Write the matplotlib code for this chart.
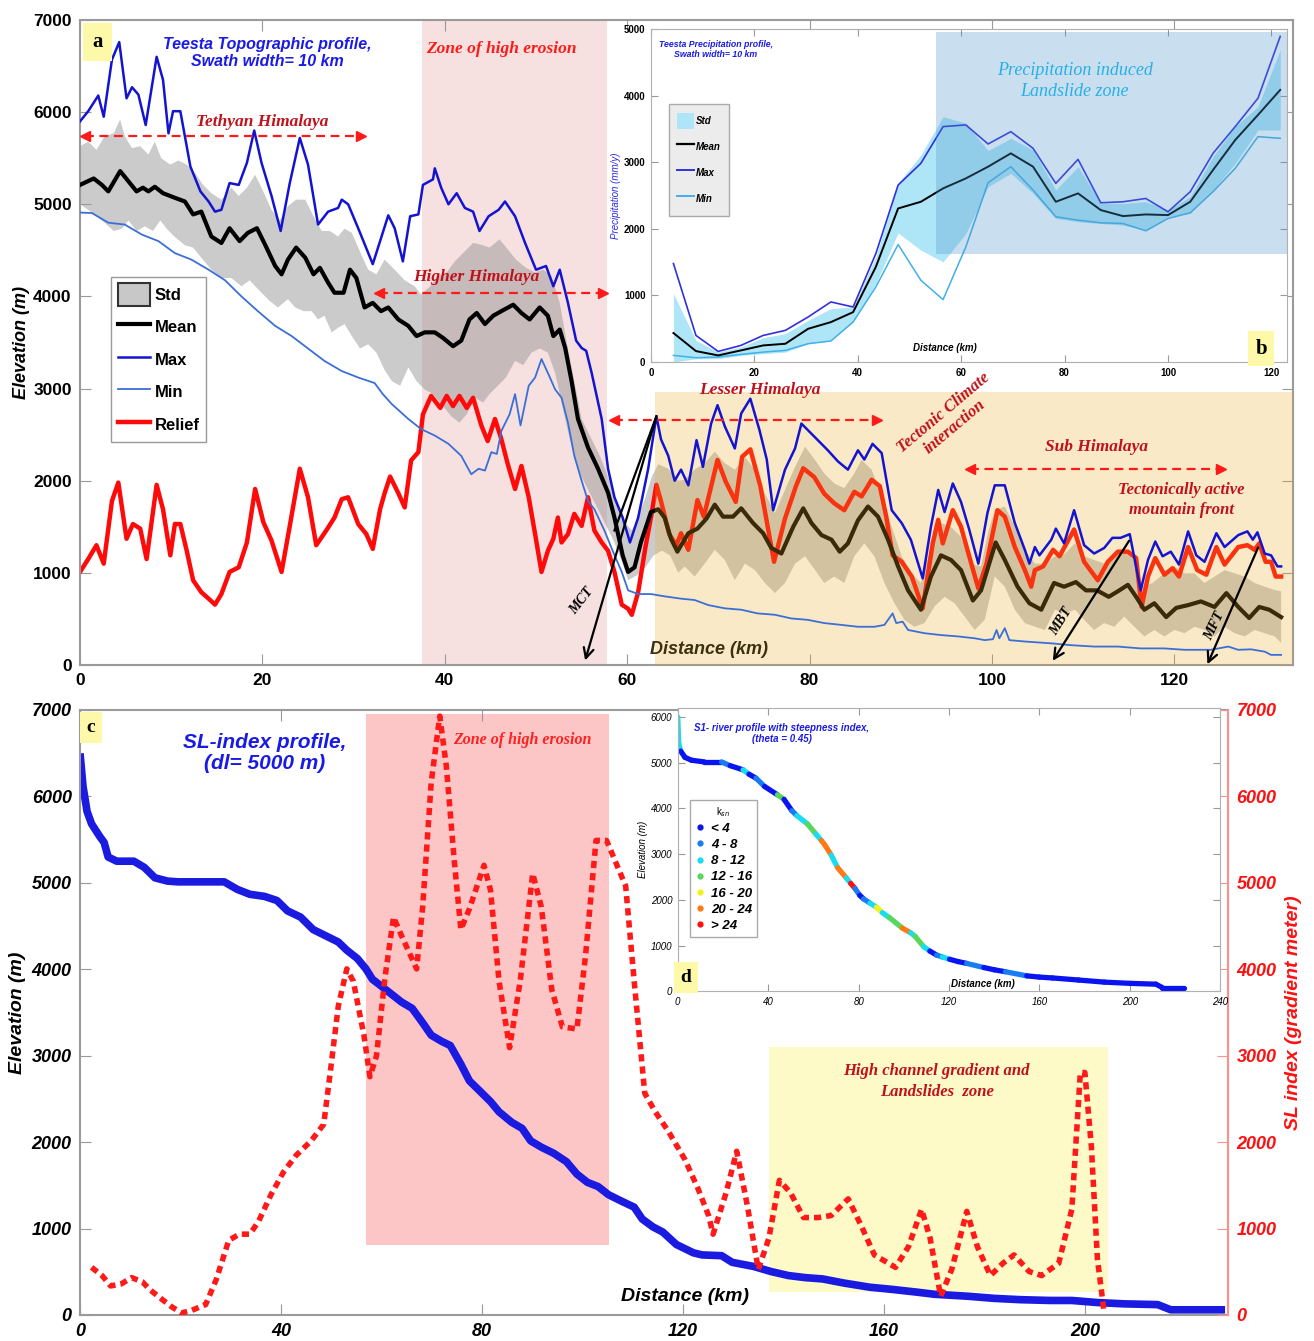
import matplotlib
matplotlib.use('Agg')
import matplotlib.pyplot as plt
from matplotlib.patches import Rectangle, Patch
from matplotlib.lines import Line2D
from matplotlib.collections import LineCollection

plt.rcParams['font.family'] = ['Liberation Sans', 'DejaVu Sans']
SERIF = ['Liberation Serif', 'DejaVu Serif']

# ---------------- panel a : topographic swath profile ----------------
max_km = [0, 0.9, 2.0, 2.6, 3.5, 4.3, 5.1, 5.7, 6.4, 7.2, 8.4, 9.1, 9.7, 10.2, 11.0, 12.1, 13.2, 14.1, 14.8, 15.5,
          16.4, 17.4, 18.3, 19.1, 19.9, 21.0, 22.0, 23.0, 24.1, 25.0, 26.1, 27.2, 28.3, 28.7, 29.4, 30.5, 31.6, 32.1,
          32.9, 33.8, 34.5, 35.4, 36.2, 37.1, 37.6, 38.7, 38.9, 39.6, 40.4, 41.3, 42.2, 43.1, 43.8, 44.8, 45.9, 46.6,
          47.7, 48.8, 50.0, 51.1, 51.9, 52.6, 53.5, 54.4, 55.0, 55.5, 56.1, 57.2, 57.9, 58.6, 59.5, 60.3, 61.2, 62.3,
          63.2, 63.7, 64.5, 65.2, 65.9, 66.7, 67.6, 68.3, 69.2, 69.9, 70.7, 71.8, 72.5, 73.5, 74.5, 75.3, 76.0, 77.3,
          78.4, 79.1, 79.8, 80.9, 82.0, 83.1, 84.2, 85.3, 86.0, 86.9, 87.9, 89.0, 90.1, 91.1, 92.4, 93.3, 94.1, 94.8,
          95.7, 96.6, 97.5, 98.5, 99.5, 100.3, 101.4, 102.5, 103.6, 104.1, 104.7, 105.2, 106.5, 107.0, 107.9, 109.0,
          110.1, 111.2, 112.3, 113.2, 114.1, 115.1, 116.3, 117.1, 117.9, 118.7, 119.6, 120.5, 121.5, 122.4, 123.3,
          124.6, 125.5, 127.0, 128.0, 128.6, 129.1, 129.9, 130.6, 131.3, 131.7]
max_elev = [5900, 6010, 6180, 5950, 6570, 6760, 6150, 6270, 6190, 5860, 6600, 6350, 5770, 6010, 6010, 5410, 5140, 5030,
            4920, 4940, 5230, 5210, 5450, 5800, 5450, 5090, 4710, 5230, 5720, 5430, 4780, 4920, 4960, 5050, 5000, 4740,
            4470, 4350, 4600, 4880, 4740, 4380, 4870, 4890, 5210, 5270, 5390, 5180, 5000, 5120, 4960, 4920, 4710, 4870,
            4940, 5030, 4870, 4580, 4290, 4330, 4110, 4290, 3930, 3520, 3440, 3410, 3170, 2670, 2130, 1820, 1600, 1330,
            1600, 2130, 2700, 2450, 2270, 2000, 2120, 1950, 2440, 2150, 2620, 2820, 2590, 2350, 2730, 2890, 2550, 2230,
            1680, 2120, 2350, 2620, 2550, 2440, 2330, 2210, 2120, 2330, 2230, 2400, 2300, 1680, 1540, 1360, 940, 1500,
            1900, 1660, 1970, 1770, 1470, 1100, 1650, 1950, 1950, 1540, 1250, 1100, 1280, 1190, 1360, 1480, 1320, 1680,
            1300, 1210, 1270, 1380, 1380, 1420, 810, 1140, 1340, 1180, 1230, 1090, 1450, 1190, 1120, 1430, 1280, 1410,
            1450, 1360, 1440, 1210, 1190, 1070, 1070]

mean_km = [0, 1.5, 2.4, 3.1, 4.4, 5.3, 6.2, 6.9, 7.5, 8.2, 9.1, 10.4, 11.5, 12.4, 13.3, 14.4, 15.5, 16.4, 17.5, 18.4,
           19.4, 20.3, 21.4, 22.1, 22.8, 23.7, 24.7, 25.6, 26.3, 27.2, 27.9, 28.9, 29.6, 30.3, 31.2, 32.1, 33.0, 33.8,
           34.9, 36.0, 36.9, 37.8, 38.9, 39.8, 40.9, 41.8, 42.7, 43.5, 44.4, 45.3, 46.2, 47.5, 48.4, 49.3, 50.4, 51.3,
           51.9, 52.6, 53.2, 53.9, 54.6, 55.7, 56.8, 57.9, 58.6, 59.5, 60.1, 60.8, 61.5, 62.6, 63.4, 64.1, 64.8, 65.5,
           66.7, 67.7, 68.7, 69.6, 70.5, 71.6, 72.5, 73.8, 74.9, 75.8, 76.9, 78.2, 79.3, 80.2, 81.3, 82.4, 83.3, 84.2,
           85.3, 86.4, 87.5, 88.6, 89.7, 90.8, 92.2, 93.3, 94.4, 95.5, 96.6, 97.9, 98.8, 100.4, 101.4, 102.8, 104.1,
           105.4, 106.8, 107.9, 109.2, 110.3, 111.5, 112.8, 113.8, 114.9, 115.8, 116.7, 117.8, 119.1, 120.2, 121.5,
           122.9, 124.4, 125.7, 127.0, 128.2, 129.3, 130.4, 131.7]
mean_elev = [5210, 5280, 5210, 5140, 5360, 5250, 5140, 5180, 5140, 5190, 5120, 5070, 5030, 4890, 4920, 4650, 4580, 4740,
             4600, 4690, 4740, 4560, 4330, 4240, 4400, 4530, 4420, 4240, 4310, 4150, 4040, 4040, 4290, 4200, 3880, 3930,
             3840, 3880, 3750, 3680, 3570, 3610, 3610, 3550, 3460, 3520, 3750, 3820, 3700, 3790, 3840, 3910, 3820, 3750,
             3880, 3790, 3570, 3640, 3440, 3080, 2670, 2360, 2130, 1870, 1600, 1190, 1010, 1060, 1330, 1660, 1690, 1600,
             1370, 1230, 1430, 1480, 1590, 1740, 1610, 1610, 1700, 1540, 1430, 1270, 1210, 1500, 1700, 1540, 1410, 1360,
             1230, 1320, 1570, 1720, 1610, 1360, 1070, 810, 600, 960, 1190, 1140, 1030, 700, 810, 1330, 1140, 850, 670,
             600, 890, 850, 900, 810, 810, 740, 800, 870, 740, 600, 670, 520, 620, 650, 690, 630, 780, 630, 510, 630,
             600, 520]

min_km = [0, 1.3, 3.1, 4.9, 6.8, 8.6, 10.4, 12.2, 14.1, 15.9, 17.7, 19.5, 21.4, 23.2, 25.0, 26.8, 28.7, 30.5, 32.3,
          33.2, 34.2, 36.0, 37.4, 38.9, 40.4, 41.8, 42.9, 43.7, 44.4, 45.1, 45.7, 46.2, 47.1, 47.7, 48.3, 49.2, 49.9,
          50.6, 51.3, 52.1, 52.8, 53.5, 54.2, 55.0, 55.7, 56.4, 57.5, 58.4, 59.4, 60.1, 61.2, 62.6, 64.1, 65.9, 67.4,
          68.9, 70.7, 72.5, 74.3, 76.2, 78.0, 79.8, 81.6, 83.5, 85.3, 87.1, 88.2, 89.1, 89.5, 90.2, 90.8, 92.6, 94.4,
          96.3, 98.1, 99.2, 100.1, 100.5, 100.8, 101.4, 101.9, 103.6, 106.5, 108.7, 111.2, 113.8, 116.3, 118.9, 121.1,
          124.0, 125.9, 127.0, 128.4, 129.9, 130.6, 131.7]
min_elev = [4910, 4905, 4800, 4780, 4670, 4600, 4470, 4400, 4290, 4175, 4000, 3840, 3680, 3570, 3435, 3300, 3190, 3120,
            3060, 2940, 2830, 2670, 2560, 2490, 2400, 2270, 2070, 2130, 2110, 2310, 2290, 2540, 2720, 2940, 2600, 3030,
            3120, 3320, 3170, 2990, 2900, 2630, 2270, 2000, 1780, 1690, 1460, 1240, 1010, 810, 770, 770, 745, 720, 705,
            650, 615, 600, 560, 545, 505, 490, 455, 435, 415, 415, 435, 560, 455, 470, 380, 345, 325, 310, 290, 270,
            280, 380, 290, 400, 270, 255, 235, 215, 200, 200, 180, 180, 165, 165, 200, 165, 170, 145, 110, 110]

relief_km = [0, 0.9, 1.8, 2.6, 3.5, 4.2, 5.1, 5.8, 6.6, 7.3, 8.4, 9.1, 9.9, 10.4, 11.0, 11.7, 12.4, 13.3, 14.1, 14.8,
             15.5, 16.4, 17.4, 18.3, 19.2, 20.1, 21.0, 22.1, 23.0, 24.1, 25.0, 25.9, 27.0, 27.9, 28.7, 29.4, 30.5, 31.4,
             32.1, 32.9, 33.4, 34.0, 34.9, 35.6, 36.3, 37.1, 37.6, 38.5, 39.5, 40.2, 40.9, 41.6, 42.4, 43.1, 44.0, 44.7,
             45.5, 46.2, 46.9, 47.7, 48.4, 49.2, 49.9, 50.6, 51.3, 51.9, 52.4, 52.8, 53.5, 54.2, 55.0, 55.7, 56.4, 57.2,
             57.9, 58.6, 59.4, 60.1, 60.5, 61.2, 62.0, 62.6, 63.2, 63.7, 64.6, 65.4, 65.9, 66.7, 67.7, 68.4, 69.9, 70.8,
             71.9, 72.6, 73.5, 74.6, 76.1, 77.3, 78.5, 79.3, 80.5, 81.6, 82.7, 83.8, 84.9, 85.7, 86.8, 87.7, 88.4, 89.1,
             90.1, 91.2, 92.4, 93.5, 94.1, 94.6, 95.7, 96.6, 97.5, 98.5, 99.4, 100.6, 101.4, 102.5, 103.6, 104.3, 104.7,
             105.6, 106.7, 107.4, 109.0, 110.1, 111.6, 112.7, 113.8, 114.9, 115.8, 116.4, 117.1, 117.9, 118.9, 119.8,
             120.5, 121.5, 122.5, 123.5, 124.6, 125.5, 127.0, 128.0, 128.8, 129.3, 130.0, 130.6, 131.1, 131.7]
relief_elev = [1010, 1150, 1300, 1100, 1780, 1980, 1370, 1530, 1480, 1150, 1955, 1690, 1190, 1530, 1530, 1240, 920, 790,
               720, 655, 770, 1010, 1060, 1330, 1910, 1550, 1350, 1010, 1510, 2130, 1820, 1300, 1460, 1600, 1800, 1820,
               1530, 1420, 1260, 1690, 1865, 2045, 1865, 1710, 2220, 2310, 2720, 2920, 2790, 2920, 2810, 2920, 2790,
               2900, 2600, 2430, 2670, 2450, 2180, 1910, 2160, 1820, 1420, 1010, 1240, 1370, 1600, 1330, 1420, 1640,
               1510, 1820, 1460, 1330, 1240, 1010, 655, 610, 545, 790, 1280, 1600, 1955, 1780, 1420, 1300, 1430, 1250,
               1790, 1610, 2225, 1990, 1770, 2260, 2340, 1940, 1120, 1590, 1940, 2135, 2040, 1860, 1755, 1680, 1880,
               1830, 2010, 1940, 1610, 1190, 1120, 960, 615, 1320, 1575, 1320, 1680, 1500, 1180, 830, 1100, 1680, 1610,
               1280, 1030, 850, 1030, 1070, 1250, 1180, 1470, 1120, 920, 1120, 1230, 1230, 1160, 630, 960, 1160, 980,
               1050, 960, 1280, 1030, 980, 1280, 1090, 1280, 1300, 1250, 1320, 1120, 1120, 960, 960]

std_hi_km = [0, 0.9, 1.8, 2.7, 3.7, 4.4, 4.9, 5.7, 6.6, 7.5, 8.2, 8.9, 9.9, 10.8, 11.7, 12.6, 13.5, 14.4, 15.5, 16.6,
             17.4, 18.3, 19.2, 19.9, 21.0, 21.9, 22.8, 23.7, 24.7, 25.6, 26.5, 27.4, 28.3, 29.0, 29.8, 30.9, 31.6, 32.5,
             33.4, 34.5, 35.6, 36.7, 37.4, 38.4, 39.3, 40.2, 41.1, 42.2, 43.1, 44.0, 44.9, 46.0, 46.9, 47.8, 48.9, 49.9,
             50.8, 51.7, 52.6, 53.4, 54.3, 55.0, 56.1, 57.0, 57.9, 58.8, 59.7, 60.5, 61.2, 62.0, 62.7, 63.4, 64.5, 65.6,
             66.3, 67.4, 68.5, 69.6, 70.7, 71.8, 72.9, 74.0, 75.1, 76.2, 77.3, 78.4, 79.5, 80.6, 81.6, 82.7, 83.8, 84.9,
             85.7, 86.8, 87.9, 89.0, 90.1, 91.2, 92.2, 93.3, 94.4, 95.5, 96.6, 97.7, 98.8, 99.6, 100.3, 101.4, 102.5,
             103.6, 104.7, 105.8, 106.9, 108.0, 109.1, 110.1, 111.2, 112.3, 113.4, 114.5, 115.6, 116.5, 117.6, 118.9,
             120.0, 121.1, 122.2, 123.3, 124.4, 125.5, 126.6, 127.7, 128.8, 129.9, 131.0, 131.7]
std_hi_elev = [5630, 5680, 5590, 5740, 5770, 5920, 5740, 5610, 5630, 5540, 5680, 5500, 5430, 5475, 5430, 5340, 5210,
               5120, 5050, 5180, 5090, 5180, 5320, 5180, 4940, 4825, 4980, 5050, 5050, 4870, 4710, 4710, 4650, 4735,
               4690, 4440, 4290, 4240, 4400, 4290, 4175, 4110, 4020, 4110, 4220, 4260, 4380, 4490, 4580, 4560, 4530,
               4620, 4510, 4400, 4310, 4260, 4290, 4220, 3930, 3480, 3030, 2670, 2450, 2270, 2045, 1780, 1550, 1460,
               1600, 1820, 2045, 2180, 2130, 2000, 2010, 2120, 2190, 2315, 2190, 2120, 2260, 2120, 1860, 1650, 1900,
               2150, 2370, 2225, 2080, 1970, 1920, 2080, 2225, 2120, 1830, 1500, 1180, 995, 890, 1285, 1540, 1500, 1390,
               1100, 1070, 1450, 1680, 1720, 1500, 1250, 1100, 1100, 1180, 1210, 1320, 1180, 1140, 1100, 1180, 1250,
               1140, 850, 890, 995, 1070, 995, 995, 890, 960, 1030, 995, 960, 890, 850, 815, 800]

std_lo_km = [0, 0.9, 1.8, 2.7, 3.7, 4.6, 5.3, 6.2, 7.1, 8.0, 8.8, 9.5, 10.4, 11.5, 12.4, 13.3, 14.4, 15.5, 16.6, 17.7,
             18.6, 19.7, 20.8, 21.7, 22.8, 23.6, 24.5, 25.4, 26.1, 26.8, 27.6, 28.3, 29.0, 29.8, 30.7, 31.6, 32.5, 33.4,
             34.2, 35.1, 36.0, 36.9, 37.8, 38.7, 39.8, 40.7, 41.6, 42.4, 43.3, 44.2, 44.9, 45.8, 46.7, 47.7, 48.6, 49.5,
             50.4, 51.3, 52.1, 52.8, 53.5, 54.3, 55.0, 55.9, 56.8, 57.7, 58.6, 59.5, 60.1, 61.0, 62.0, 62.9, 63.8, 64.7,
             65.6, 66.3, 67.4, 68.5, 69.6, 70.7, 71.8, 72.9, 74.0, 75.1, 76.2, 77.3, 78.4, 79.5, 80.6, 81.6, 82.7, 83.8,
             84.9, 86.0, 87.1, 88.2, 89.3, 90.4, 91.5, 92.6, 93.7, 94.8, 95.9, 97.0, 98.1, 99.2, 100.3, 101.4, 102.5,
             103.6, 104.7, 105.8, 106.9, 108.0, 109.1, 110.1, 111.2, 112.3, 113.4, 114.5, 115.6, 116.7, 117.8, 118.9,
             120.0, 121.1, 122.2, 123.3, 124.4, 125.5, 126.6, 127.7, 128.8, 129.9, 131.0, 131.7]
std_lo_elev = [5000, 4940, 4870, 4800, 4710, 4735, 4825, 4710, 4760, 4710, 4825, 4735, 4645, 4555, 4530, 4420, 4290,
               4200, 4200, 4110, 4175, 4060, 3950, 3880, 3970, 3880, 3840, 3840, 3750, 3790, 3610, 3660, 3700, 3570,
               3435, 3480, 3390, 3200, 3080, 3030, 3230, 3080, 2990, 2940, 2810, 2700, 2630, 2720, 2900, 2850, 2940,
               3030, 3120, 3300, 3255, 3390, 3435, 3390, 3170, 2850, 2540, 2220, 2045, 1865, 1690, 1510, 1330, 1100,
               920, 970, 1060, 1190, 1240, 1190, 1000, 1070, 960, 1100, 1250, 1140, 920, 1100, 1030, 890, 780, 890,
               1100, 1180, 1030, 890, 960, 890, 1180, 1320, 1180, 890, 670, 490, 415, 455, 635, 740, 670, 525, 380, 490,
               960, 850, 600, 455, 415, 380, 600, 560, 600, 490, 380, 455, 415, 525, 415, 310, 380, 310, 380, 345, 415,
               380, 310, 415, 345, 310, 380, 345, 310, 240]

# ---------------- panel b : precipitation swath (inset) ----------------
prec_km = [4.35, 8.7, 13.0, 17.4, 21.7, 26.0, 30.4, 34.8, 39.1, 43.5, 47.8, 52.2, 56.5, 60.9, 65.2, 69.6, 73.9, 78.3,
           82.6, 87.0, 91.3, 95.7, 100.0, 104.3, 108.7, 113.0, 117.4, 121.7]
prec_mean = [436, 165, 100, 175, 250, 275, 500, 600, 750, 1430, 2307, 2407, 2608, 2758, 2934, 3134, 2934, 2407, 2533,
             2282, 2192, 2217, 2207, 2407, 2884, 3335, 3711, 4087]
prec_max = [1479, 400, 160, 250, 400, 476, 677, 903, 827, 1630, 2658, 2984, 3536, 3561, 3275, 3460, 3210, 2683, 3044,
            2392, 2407, 2457, 2257, 2558, 3134, 3536, 3962, 4890]
prec_min = [100, 65, 75, 115, 150, 175, 276, 316, 602, 1128, 1765, 1229, 938, 1730, 2693, 2934, 2583, 2182, 2131, 2091,
            2081, 1971, 2156, 2242, 2558, 2909, 3385, 3360]
prec_std_hi = [1028, 326, 150, 226, 366, 426, 627, 802, 827, 1580, 2683, 3110, 3686, 3586, 3175, 3360, 3185, 2583, 2934,
               2382, 2382, 2407, 2282, 2482, 3084, 3536, 3836, 4689]
prec_std_lo = [0, 50, 50, 100, 125, 150, 276, 326, 602, 1178, 1940, 1680, 1505, 1930, 2633, 2834, 2533, 2157, 2106,
               2081, 2056, 1981, 2182, 2232, 2583, 2984, 3485, 3485]

# ---------------- panel c : SL-index profile ----------------
river_km = [0, 0.6, 1.4, 2.3, 3.9, 4.8, 5.6, 7.3, 10.7, 12.8, 14.9, 17.4, 19.5, 28.7, 31.3, 33.8, 36.7, 39.2, 41.3, 43.9,
            46.4, 48.9, 51.4, 53.1, 55.2, 56.9, 58.2, 59.8, 61.9, 64.0, 66.1, 68.2, 69.9, 72.0, 73.7, 75.8, 77.5, 79.6,
            81.7, 83.4, 85.9, 88.0, 89.7, 91.8, 94.3, 96.8, 98.9, 101.0, 103.1, 105.2, 107.7, 110.3, 111.9, 114.0,
            116.0, 118.7, 122.1, 123.8, 127.7, 129.8, 134.1, 137.5, 141.0, 144.4, 147.8, 152.1, 157.2, 161.5, 166.6,
            170.0, 176.9, 182.0, 187.2, 193.1, 197.4, 202.5, 207.7, 214.5, 217.1, 223.1, 227.9]
river_elev = [6497, 6114, 5826, 5682, 5538, 5466, 5298, 5250, 5250, 5178, 5058, 5020, 5011, 5011, 4924, 4867, 4843,
              4795, 4675, 4603, 4459, 4387, 4315, 4220, 4124, 4004, 3884, 3812, 3716, 3620, 3548, 3380, 3237, 3165,
              3117, 2901, 2709, 2589, 2469, 2350, 2230, 2158, 2014, 1942, 1870, 1774, 1630, 1534, 1486, 1391, 1319,
              1247, 1110, 1020, 959, 815, 719, 695, 686, 609, 561, 503, 456, 432, 417, 369, 321, 297, 264, 240, 216,
              192, 177, 168, 168, 144, 129, 120, 60, 60, 60]

sl_km = [2.3, 4.4, 6.1, 8.2, 10.3, 12.4, 14.0, 16.6, 18.2, 20.2, 22.0, 25.0, 27.1, 29.6, 31.7, 33.8, 35.5, 38.0, 40.5,
         43.0, 46.0, 48.5, 49.7, 51.4, 53.1, 54.4, 56.5, 57.7, 59.0, 60.7, 62.4, 64.0, 67.0, 68.2, 69.9, 71.6, 72.9,
         74.5, 75.8, 77.5, 80.4, 81.7, 83.4, 85.5, 87.6, 90.1, 91.8, 93.9, 96.0, 98.9, 100.6, 102.7, 104.8, 108.6,
         110.3, 112.4, 114.5, 117.0, 120.4, 123.0, 125.1, 126.0, 128.6, 130.7, 132.8, 135.0, 137.1, 139.2, 141.4,
         144.0, 146.9, 149.5, 152.9, 155.5, 158.1, 162.3, 164.9, 167.5, 169.2, 171.3, 173.5, 176.5, 178.6, 181.2,
         183.7, 185.9, 188.9, 191.4, 194.8, 197.4, 199.1, 200.0, 201.3, 202.5, 203.8]
sl_val = [551, 455, 336, 360, 432, 384, 288, 168, 96, 24, 48, 120, 408, 863, 935, 935, 1079, 1391, 1654, 1846, 2014,
          2206, 2757, 3572, 4004, 3860, 3237, 2757, 2997, 3908, 4603, 4387, 4004, 4723, 6162, 6929, 6354, 5250, 4459,
          4699, 5202, 4915, 3860, 3093, 3860, 5107, 4723, 3764, 3333, 3309, 4148, 5490, 5490, 4963, 3860, 2565, 2350,
          2134, 1798, 1462, 1151, 935, 1415, 1894, 1271, 527, 887, 1558, 1415, 1127, 1127, 1151, 1343, 1031, 695, 551,
          791, 1223, 887, 216, 527, 1199, 791, 456, 599, 695, 503, 456, 599, 1223, 2805, 2805, 1942, 647, 48]

# ---------------- panel d : S1 river profile with ksn (inset) ----------------
s1_km = [0, 0.4, 1.3, 3.2, 6.1, 11.8, 19.4, 23.2, 28.9, 31.5, 34.6, 38.4, 44.1, 47.0, 50.5, 52.7, 57.4, 61.2, 63.5,
         65.0, 67.9, 70.7, 74.6, 76.5, 78.4, 80.5, 82.2, 85.0, 87.9, 90.5, 93.6, 99.3, 103.0, 105.0, 108.8, 111.5,
         114.5, 117.0, 120.2, 124.0, 127.8, 135.4, 140.0, 144.9, 154.4, 160.0, 165.8, 177.3, 188.7, 200.1, 211.5,
         214.3, 223.9]
s1_elev = [6002, 5437, 5255, 5118, 5055, 5018, 5018, 4936, 4845, 4750, 4663, 4481, 4299, 4200, 3950, 3843, 3661, 3434,
           3300, 3206, 2978, 2705, 2477, 2360, 2250, 2100, 2022, 1930, 1840, 1720, 1612, 1384, 1280, 1202, 975, 880,
           792, 750, 701, 650, 610, 519, 470, 428, 337, 310, 291, 246, 200, 173, 155, 82, 82]
# ksn class of each segment (index into ksn_labels)
s1_class = [2, 2, 0, 0, 0, 0, 1, 0, 2, 0, 1, 0, 3, 0, 1, 2, 3, 2, 5, 5, 2, 5, 2, 6, 1, 0, 1, 2, 4, 2, 3, 5, 2, 3, 2,
            0, 1, 2, 0, 0, 1, 0, 0, 1, 0, 0, 0, 0, 0, 0, 0, 0]
ksn_labels = ['< 4', '4 - 8', '8 - 12', '12 - 16', '16 - 20', '20 - 24', '> 24']
ksn_colors = ['#0a14f0', '#1a7cf5', '#18dcf0', '#59d65c', '#f2f21a', '#ff7a14', '#ff1010']

# ======================================================================
fig = plt.figure(figsize=(13.14, 13.41), dpi=100)

# ---------------------------- panel a ---------------------------------
ax = fig.add_axes([0.0609, 0.5041, 0.9231, 0.481])
ax.set_xlim(0, 133)
ax.set_ylim(0, 7000)

ax.axvspan(37.5, 57.8, color='#f6e0e0', zorder=0.5, lw=0)
band_x = std_hi_km + std_lo_km[::-1]
band_y = std_hi_elev + std_lo_elev[::-1]
ax.fill(band_x, band_y, color='#8c8c8c', alpha=0.45, lw=0, zorder=1)
ax.plot(relief_km, relief_elev, color='#ff0a0a', lw=3.2, zorder=2.4)
ax.plot(mean_km, mean_elev, color='black', lw=3.0, zorder=2.6)
# Lesser/Sub Himalaya zone tints what lies below it
ax.add_patch(Rectangle((63, 0), 70, 2960, facecolor='#ebab1e', alpha=0.25, lw=0, zorder=3))
ax.plot(min_km, min_elev, color='#3a6fd8', lw=1.3, zorder=3.5)
ax.plot(max_km, max_elev, color='#1414d0', lw=1.8, zorder=3.6)

ax.set_xticks(range(0, 121, 20))
ax.set_yticks(range(0, 7001, 1000))
ax.tick_params(direction='in', length=8, top=True, right=True, labelsize=12.5, color='#999999', pad=6)
for lab in ax.get_xticklabels() + ax.get_yticklabels():
    lab.set_fontweight('bold')
for s in ax.spines.values():
    s.set_color('#9a9a9a')
    s.set_linewidth(1.5)
ax.set_ylabel('Elevation (m)', fontsize=13, fontweight='bold', fontstyle='italic', labelpad=2)
ax.text(69, 170, 'Distance (km)', fontsize=13, fontweight='bold', fontstyle='italic', color='#3b3010',
        ha='center', va='center', zorder=6)

ax.text(1.9, 6760, 'a', fontsize=15, fontweight='bold', family=SERIF, ha='center', va='center', zorder=6,
        bbox=dict(boxstyle='square,pad=0.45', fc='#fdf9a8', ec='none'))
ax.text(20.5, 6640, 'Teesta Topographic profile,\nSwath width= 10 km', fontsize=11.5, fontweight='bold',
        fontstyle='italic', color='#1a1ae6', ha='center', va='center', linespacing=1.2, zorder=6)
ax.text(46.2, 6690, 'Zone of high erosion', fontsize=12.5, fontweight='bold', fontstyle='italic', family=SERIF,
        color='#ff1a1a', ha='center', va='center', zorder=6)

def dashed_span(a, x0, x1, y):
    a.plot([x0, x1], [y, y], ls=(0, (4, 2.5)), color='#ff1a1a', lw=1.6, zorder=6)
    a.plot([x0], [y], marker='<', color='#ff1a1a', ms=7, zorder=6)
    a.plot([x1], [y], marker='>', color='#ff1a1a', ms=7, zorder=6)

region_red = '#c0101a'
dashed_span(ax, 0.6, 30.8, 5740)
ax.text(20, 5890, 'Tethyan Himalaya', fontsize=12.5, fontweight='bold', fontstyle='italic', family=SERIF,
        color=region_red, ha='center', va='center', zorder=6)
dashed_span(ax, 32.8, 57.3, 4040)
ax.text(43.5, 4210, 'Higher Himalaya', fontsize=12.5, fontweight='bold', fontstyle='italic', family=SERIF,
        color=region_red, ha='center', va='center', zorder=6)
dashed_span(ax, 58.6, 87.4, 2660)
ax.text(74.6, 2985, 'Lesser Himalaya', fontsize=12.5, fontweight='bold', fontstyle='italic', family=SERIF,
        color=region_red, ha='center', va='center', zorder=6)
dashed_span(ax, 97.6, 125.1, 2127)
ax.text(111.5, 2370, 'Sub Himalaya', fontsize=12.5, fontweight='bold', fontstyle='italic', family=SERIF,
        color=region_red, ha='center', va='center', zorder=6)
ax.text(95.3, 2660, 'Tectonic Climate\ninteraction', fontsize=12, fontweight='bold', fontstyle='italic',
        family=SERIF, color=region_red, ha='center', va='center', rotation=40, zorder=6)
ax.text(120.8, 1790, 'Tectonically active\nmountain front', fontsize=12, fontweight='bold', fontstyle='italic',
        family=SERIF, color=region_red, ha='center', va='center', linespacing=1.3, zorder=6)

arrow_kw = dict(arrowstyle='->', color='black', lw=1.6, mutation_scale=18)
ax.annotate('', xy=(55.3, 20), xytext=(63.2, 2700), arrowprops=arrow_kw, zorder=6, annotation_clip=False)
ax.plot([63.2, 58.6], [2700, 1460], color='black', lw=1.6, zorder=6)
ax.annotate('', xy=(106.5, 20), xytext=(115.2, 1375), arrowprops=arrow_kw, zorder=6, annotation_clip=False)
ax.annotate('', xy=(123.5, -20), xytext=(129.3, 1303), arrowprops=arrow_kw, zorder=6, annotation_clip=False)
ax.text(55.0, 700, 'MCT', fontsize=10, fontweight='bold', fontstyle='italic', family=SERIF, rotation=52,
        ha='center', va='center', zorder=6)
ax.text(107.6, 470, 'MBT', fontsize=10, fontweight='bold', fontstyle='italic', family=SERIF, rotation=58,
        ha='center', va='center', zorder=6)
ax.text(124.4, 420, 'MFT', fontsize=10, fontweight='bold', fontstyle='italic', family=SERIF, rotation=64,
        ha='center', va='center', zorder=6)

leg_a = [Patch(facecolor='#c8c8c8', edgecolor='#333333', lw=1.5, label='Std'),
         Line2D([], [], color='black', lw=3, label='Mean'),
         Line2D([], [], color='#1414d0', lw=1.8, label='Max'),
         Line2D([], [], color='#3a6fd8', lw=1.3, label='Min'),
         Line2D([], [], color='#ff0a0a', lw=3.2, label='Relief')]
lg = ax.legend(handles=leg_a, loc='upper left', bbox_to_anchor=(0.019, 0.615), prop=dict(weight='bold', size=12),
               handlelength=1.9, handleheight=1.7, labelspacing=0.6, handletextpad=0.3, borderpad=0.4,
               frameon=True, fancybox=False, edgecolor='#999999', framealpha=1)
lg.set_zorder(10)

# ---------------------------- panel b (inset) ---------------------------
axb = fig.add_axes([0.4954, 0.730, 0.484, 0.2483])
axb.set_zorder(5)
axb.set_facecolor('white')
axb.set_xlim(0, 123)
axb.set_ylim(0, 5000)
axb.fill_between(prec_km, prec_std_lo, prec_std_hi, color='#aee6f7', lw=0, zorder=1)
axb.plot(prec_km, prec_min, color='#40b0e8', lw=1.1, zorder=2)
axb.plot(prec_km, prec_max, color='#3030e0', lw=1.2, zorder=2)
axb.plot(prec_km, prec_mean, color='black', lw=1.4, zorder=3)
axb.add_patch(Rectangle((55.2, 1630), 70, 3330, facecolor='#4f93c8', alpha=0.3, lw=0, zorder=4))
axb.text(82, 4220, 'Precipitation induced\nLandslide zone', fontsize=13, fontstyle='italic', family=SERIF,
         color='#25b0e8', ha='center', va='center', linespacing=1.3, zorder=6)
axb.text(12.5, 4690, 'Teesta Precipitation profile,\nSwath width= 10 km', fontsize=6.3, fontweight='bold',
         fontstyle='italic', color='#1a1ae6', ha='center', va='center', zorder=6)
axb.text(56.9, 210, 'Distance (km)', fontsize=7, fontweight='bold', fontstyle='italic', ha='center', va='center',
         zorder=6)
axb.text(118, 200, 'b', fontsize=15, fontweight='bold', family=SERIF, ha='center', va='center', zorder=6,
         bbox=dict(boxstyle='square,pad=0.35', fc='#fdf9a8', ec='none'))
axb.set_ylabel('Precipitation (mm/y)', fontsize=7, fontstyle='italic', color='#2a2ae6', labelpad=2)
axb.set_xticks(range(0, 121, 20))
axb.set_yticks(range(0, 5001, 1000))
axb.tick_params(direction='in', length=5, top=True, right=True, labelsize=7, color='#999999', pad=4)
for lab in axb.get_xticklabels() + axb.get_yticklabels():
    lab.set_fontweight('bold')
for s in axb.spines.values():
    s.set_color('#b0b0b0')
leg_b = [Patch(facecolor='#aee6f7', edgecolor='none', label='Std'),
         Line2D([], [], color='black', lw=1.6, label='Mean'),
         Line2D([], [], color='#3030e0', lw=1.4, label='Max'),
         Line2D([], [], color='#40b0e8', lw=1.4, label='Min')]
axb.legend(handles=leg_b, loc='upper left', bbox_to_anchor=(0.02, 0.79),
           prop=dict(weight='bold', style='italic', size=7), handlelength=1.7, handleheight=2.2,
           labelspacing=1.0, handletextpad=0.2, borderpad=0.9, fancybox=False, edgecolor='#aaaaaa',
           facecolor='#ececec', framealpha=1)

# ---------------------------- panel c ---------------------------------
axc = fig.add_axes([0.0609, 0.0194, 0.8737, 0.4512])
axc.set_xlim(0, 228.5)
axc.set_ylim(0, 7000)
axc.add_patch(Rectangle((56.9, 815), 48.3, 6140, facecolor='#fcc6c6', lw=0, zorder=0.5))
axc.add_patch(Rectangle((137.1, 264), 67.6, 2838, facecolor='#fdfac8', lw=0, zorder=0.5))
axc.plot(river_km, river_elev, color='#1a1ae0', lw=5.5, solid_capstyle='butt', zorder=2)
axc.set_xticks(range(0, 201, 40))
axc.set_yticks(range(0, 7001, 1000))
axc.tick_params(direction='in', length=8, top=True, labelsize=13, color='#999999', pad=6)
for lab in axc.get_xticklabels() + axc.get_yticklabels():
    lab.set_fontweight('bold')
    lab.set_fontstyle('italic')
for s in axc.spines.values():
    s.set_color('#9a9a9a')
    s.set_linewidth(1.5)
axc.set_ylabel('Elevation (m)', fontsize=14, fontweight='bold', fontstyle='italic', labelpad=4)
axc.text(120.4, 210, 'Distance (km)', fontsize=14, fontweight='bold', fontstyle='italic', ha='center',
         va='center', zorder=6)
axc.text(2.2, 6800, 'c', fontsize=14, fontweight='bold', family=SERIF, ha='center', va='center', zorder=6,
         bbox=dict(boxstyle='square,pad=0.35', fc='#fdf9a8', ec='none'))
axc.text(36.8, 6500, 'SL-index profile,\n(dl= 5000 m)', fontsize=15, fontweight='bold', fontstyle='italic',
         color='#1a1ae6', ha='center', va='center', linespacing=1.15, zorder=6)
axc.text(88, 6650, 'Zone of high erosion', fontsize=11.5, fontweight='bold', fontstyle='italic', family=SERIF,
         color='#ff2020', ha='center', va='center', zorder=6)
axc.text(170.5, 2700, 'High channel gradient and\nLandslides  zone', fontsize=12, fontweight='bold',
         fontstyle='italic', family=SERIF, color='#c0101a', ha='center', va='center', linespacing=1.4, zorder=6)

axr = axc.twinx()
axr.set_ylim(0, 7000)
axr.plot(sl_km, sl_val, color='#ff1a1a', lw=4, ls=(0, (1.3, 0.9)), zorder=3)
axr.set_yticks(range(0, 7001, 1000))
axr.tick_params(direction='in', length=8, labelsize=13, colors='#ff1010', pad=6)
axr.tick_params(axis='y', color='#ff9090')
for lab in axr.get_yticklabels():
    lab.set_fontweight('bold')
    lab.set_fontstyle('italic')
axr.spines['right'].set_color('#ff9090')
axr.spines['right'].set_linewidth(1.5)
for k in ['left', 'top', 'bottom']:
    axr.spines[k].set_visible(False)
axr.set_ylabel('SL index (gradient meter)', fontsize=14, fontweight='bold', fontstyle='italic',
               color='#ff1010', labelpad=6)

# ---------------------------- panel d (inset) ---------------------------
axd = fig.add_axes([0.5158, 0.2608, 0.4129, 0.2113])
axd.set_zorder(5)
axd.set_facecolor('white')
axd.set_xlim(0, 240)
axd.set_ylim(0, 6200)
segs = [[(s1_km[i], s1_elev[i]), (s1_km[i + 1], s1_elev[i + 1])] for i in range(len(s1_km) - 1)]
lc = LineCollection(segs, colors=[ksn_colors[c] for c in s1_class], linewidths=3.8, capstyle='round', zorder=2)
axd.add_collection(lc)
axd.set_xticks(range(0, 241, 40))
axd.set_yticks(range(0, 6001, 1000))
axd.tick_params(direction='in', length=5, top=True, right=True, labelsize=7, color='#999999', pad=4)
for lab in axd.get_xticklabels() + axd.get_yticklabels():
    lab.set_fontstyle('italic')
for s in axd.spines.values():
    s.set_color('#b0b0b0')
axd.set_ylabel('Elevation (m)', fontsize=7, fontstyle='italic', labelpad=2)
axd.text(135, 160, 'Distance (km)', fontsize=7, fontweight='bold', fontstyle='italic', ha='center', va='center')
axd.text(46, 5640, 'S1- river profile with steepness index,\n(theta = 0.45)', fontsize=7, fontweight='bold',
         fontstyle='italic', color='#1a1ae6', ha='center', va='center')
axd.text(3.6, 300, 'd', fontsize=14, fontweight='bold', family=SERIF, ha='center', va='center', zorder=6,
         bbox=dict(boxstyle='square,pad=0.35', fc='#fdf9a8', ec='none'))
leg_d = [Line2D([], [], marker='o', ls='', color=c, ms=3.5, label=l) for c, l in zip(ksn_colors, ksn_labels)]
lgd = axd.legend(handles=leg_d, loc='upper left', bbox_to_anchor=(0.01, 0.7), title='k$_{sn}$',
                 title_fontsize=7, prop=dict(weight='bold', style='italic', size=9.5), handlelength=0.8,
                 handletextpad=0.4, labelspacing=0.3, borderpad=0.4, fancybox=False, edgecolor='#aaaaaa',
                 framealpha=1)

fig.savefig('out.png', dpi=100)
